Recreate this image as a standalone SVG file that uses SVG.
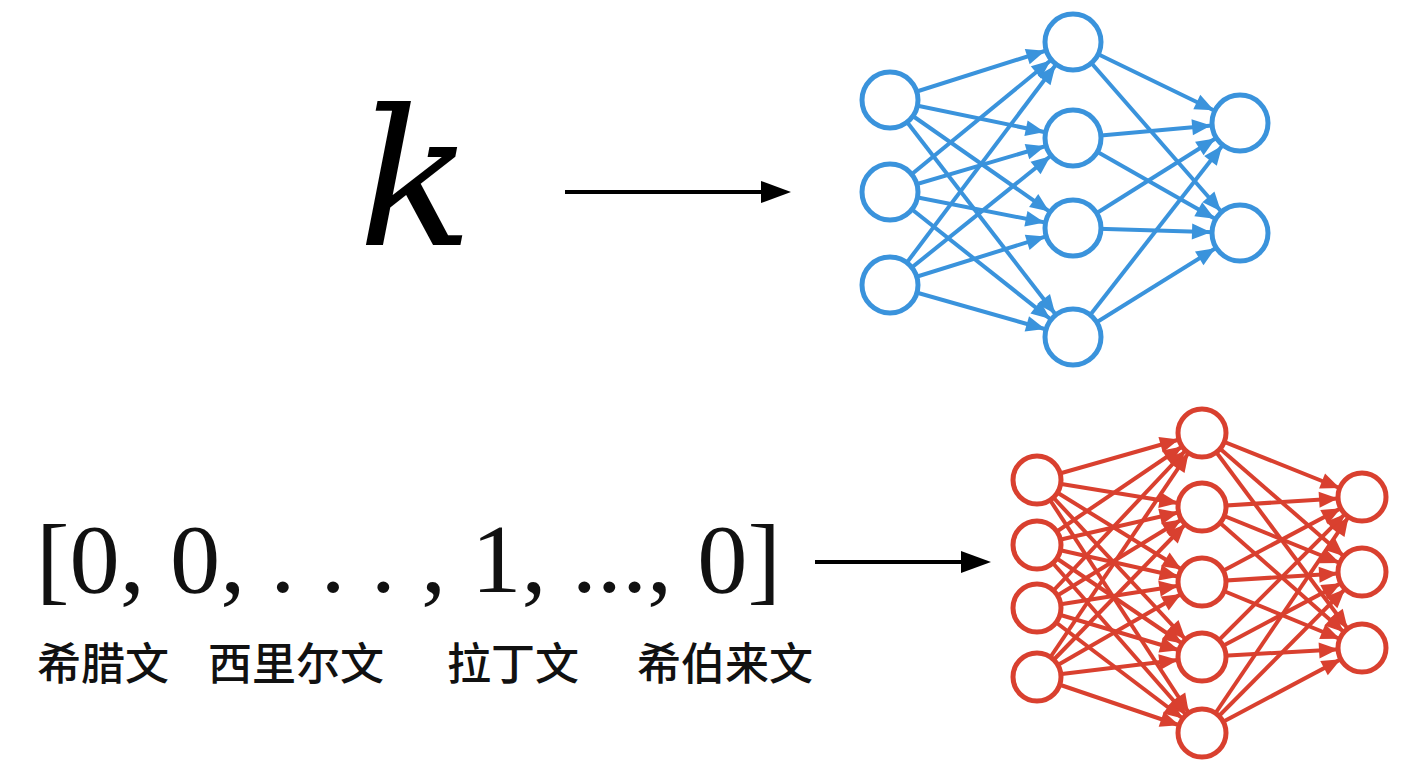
<svg xmlns="http://www.w3.org/2000/svg" width="1408" height="768" viewBox="0 0 1408 768">
<defs>
<marker id="ab" markerUnits="userSpaceOnUse" markerWidth="60" markerHeight="30" refX="48" refY="8" orient="auto" overflow="visible"><path d="M0,0 L19,8 L0,16 Z" fill="#3a93dc"/></marker>
<marker id="ar" markerUnits="userSpaceOnUse" markerWidth="60" markerHeight="30" refX="43" refY="8" orient="auto" overflow="visible"><path d="M0,0 L19,8 L0,16 Z" fill="#d9402f"/></marker>
<marker id="ak" markerUnits="userSpaceOnUse" markerWidth="30" markerHeight="30" refX="24" refY="11" orient="auto" overflow="visible"><path d="M0,0 L30,11 L0,22 Z" fill="#000"/></marker>
</defs>
<style>
.b{stroke:#3a93dc;stroke-width:4;marker-end:url(#ab)}
.r{stroke:#d9402f;stroke-width:4;marker-end:url(#ar)}
.nb{fill:#fff;stroke:#3a93dc;stroke-width:5}
.nr{fill:#fff;stroke:#d9402f;stroke-width:5}
.cn{font-family:"Noto Sans CJK SC",sans-serif;font-size:44px;font-weight:500;fill:#111}
</style>
<rect width="1408" height="768" fill="#fff"/>
<text x="358" y="245" font-family="DejaVu Serif,serif" font-style="italic" font-size="190" fill="#000">k</text>
<text x="36" y="592" font-family="Liberation Serif,serif" font-size="98" textLength="745" lengthAdjust="spacingAndGlyphs" fill="#111">[0, 0, . . . , 1, ..., 0]</text>
<g id="labels">
<text class="cn" x="37" y="680">希腊文</text>
<text class="cn" x="208" y="680">西里尔文</text>
<text class="cn" x="447" y="680">拉丁文</text>
<text class="cn" x="637" y="680">希伯来文</text>
</g>
<g id="connectors">
<line x1="565" y1="192" x2="785" y2="192" stroke="#000" stroke-width="4" marker-end="url(#ak)"/>
<line x1="815" y1="562" x2="985" y2="562" stroke="#000" stroke-width="4" marker-end="url(#ak)"/>
<g>
<line class="b" x1="890" y1="100" x2="1073" y2="42"/><line class="b" x1="890" y1="100" x2="1073" y2="138"/><line class="b" x1="890" y1="100" x2="1073" y2="228"/><line class="b" x1="890" y1="100" x2="1073" y2="337"/>
<line class="b" x1="890" y1="192" x2="1073" y2="42"/><line class="b" x1="890" y1="192" x2="1073" y2="138"/><line class="b" x1="890" y1="192" x2="1073" y2="228"/><line class="b" x1="890" y1="192" x2="1073" y2="337"/>
<line class="b" x1="890" y1="285" x2="1073" y2="42"/><line class="b" x1="890" y1="285" x2="1073" y2="138"/><line class="b" x1="890" y1="285" x2="1073" y2="228"/><line class="b" x1="890" y1="285" x2="1073" y2="337"/>
<line class="b" x1="1073" y1="42" x2="1240" y2="123"/><line class="b" x1="1073" y1="42" x2="1240" y2="233"/>
<line class="b" x1="1073" y1="138" x2="1240" y2="123"/><line class="b" x1="1073" y1="138" x2="1240" y2="233"/>
<line class="b" x1="1073" y1="228" x2="1240" y2="123"/><line class="b" x1="1073" y1="228" x2="1240" y2="233"/>
<line class="b" x1="1073" y1="337" x2="1240" y2="123"/><line class="b" x1="1073" y1="337" x2="1240" y2="233"/>
</g>
<g>
<line class="r" x1="1037" y1="480" x2="1202" y2="433"/><line class="r" x1="1037" y1="480" x2="1202" y2="507"/><line class="r" x1="1037" y1="480" x2="1202" y2="582"/><line class="r" x1="1037" y1="480" x2="1202" y2="657"/><line class="r" x1="1037" y1="480" x2="1202" y2="733"/>
<line class="r" x1="1037" y1="545" x2="1202" y2="433"/><line class="r" x1="1037" y1="545" x2="1202" y2="507"/><line class="r" x1="1037" y1="545" x2="1202" y2="582"/><line class="r" x1="1037" y1="545" x2="1202" y2="657"/><line class="r" x1="1037" y1="545" x2="1202" y2="733"/>
<line class="r" x1="1037" y1="608" x2="1202" y2="433"/><line class="r" x1="1037" y1="608" x2="1202" y2="507"/><line class="r" x1="1037" y1="608" x2="1202" y2="582"/><line class="r" x1="1037" y1="608" x2="1202" y2="657"/><line class="r" x1="1037" y1="608" x2="1202" y2="733"/>
<line class="r" x1="1037" y1="677" x2="1202" y2="433"/><line class="r" x1="1037" y1="677" x2="1202" y2="507"/><line class="r" x1="1037" y1="677" x2="1202" y2="582"/><line class="r" x1="1037" y1="677" x2="1202" y2="657"/><line class="r" x1="1037" y1="677" x2="1202" y2="733"/>
<line class="r" x1="1202" y1="433" x2="1362" y2="497"/><line class="r" x1="1202" y1="433" x2="1362" y2="572"/><line class="r" x1="1202" y1="433" x2="1362" y2="648"/>
<line class="r" x1="1202" y1="507" x2="1362" y2="497"/><line class="r" x1="1202" y1="507" x2="1362" y2="572"/><line class="r" x1="1202" y1="507" x2="1362" y2="648"/>
<line class="r" x1="1202" y1="582" x2="1362" y2="497"/><line class="r" x1="1202" y1="582" x2="1362" y2="572"/><line class="r" x1="1202" y1="582" x2="1362" y2="648"/>
<line class="r" x1="1202" y1="657" x2="1362" y2="497"/><line class="r" x1="1202" y1="657" x2="1362" y2="572"/><line class="r" x1="1202" y1="657" x2="1362" y2="648"/>
<line class="r" x1="1202" y1="733" x2="1362" y2="497"/><line class="r" x1="1202" y1="733" x2="1362" y2="572"/><line class="r" x1="1202" y1="733" x2="1362" y2="648"/>
</g>
</g>
<g id="blue-net">
<circle class="nb" cx="890" cy="100" r="28"/><circle class="nb" cx="890" cy="192" r="28"/><circle class="nb" cx="890" cy="285" r="28"/>
<circle class="nb" cx="1073" cy="42" r="28"/><circle class="nb" cx="1073" cy="138" r="28"/><circle class="nb" cx="1073" cy="228" r="28"/><circle class="nb" cx="1073" cy="337" r="28"/>
<circle class="nb" cx="1240" cy="123" r="28"/><circle class="nb" cx="1240" cy="233" r="28"/>
</g>
<g id="red-net">
<circle class="nr" cx="1037" cy="480" r="24"/><circle class="nr" cx="1037" cy="545" r="24"/><circle class="nr" cx="1037" cy="608" r="24"/><circle class="nr" cx="1037" cy="677" r="24"/>
<circle class="nr" cx="1202" cy="433" r="24"/><circle class="nr" cx="1202" cy="507" r="24"/><circle class="nr" cx="1202" cy="582" r="24"/><circle class="nr" cx="1202" cy="657" r="24"/><circle class="nr" cx="1202" cy="733" r="24"/>
<circle class="nr" cx="1362" cy="497" r="24"/><circle class="nr" cx="1362" cy="572" r="24"/><circle class="nr" cx="1362" cy="648" r="24"/>
</g>
</svg>
